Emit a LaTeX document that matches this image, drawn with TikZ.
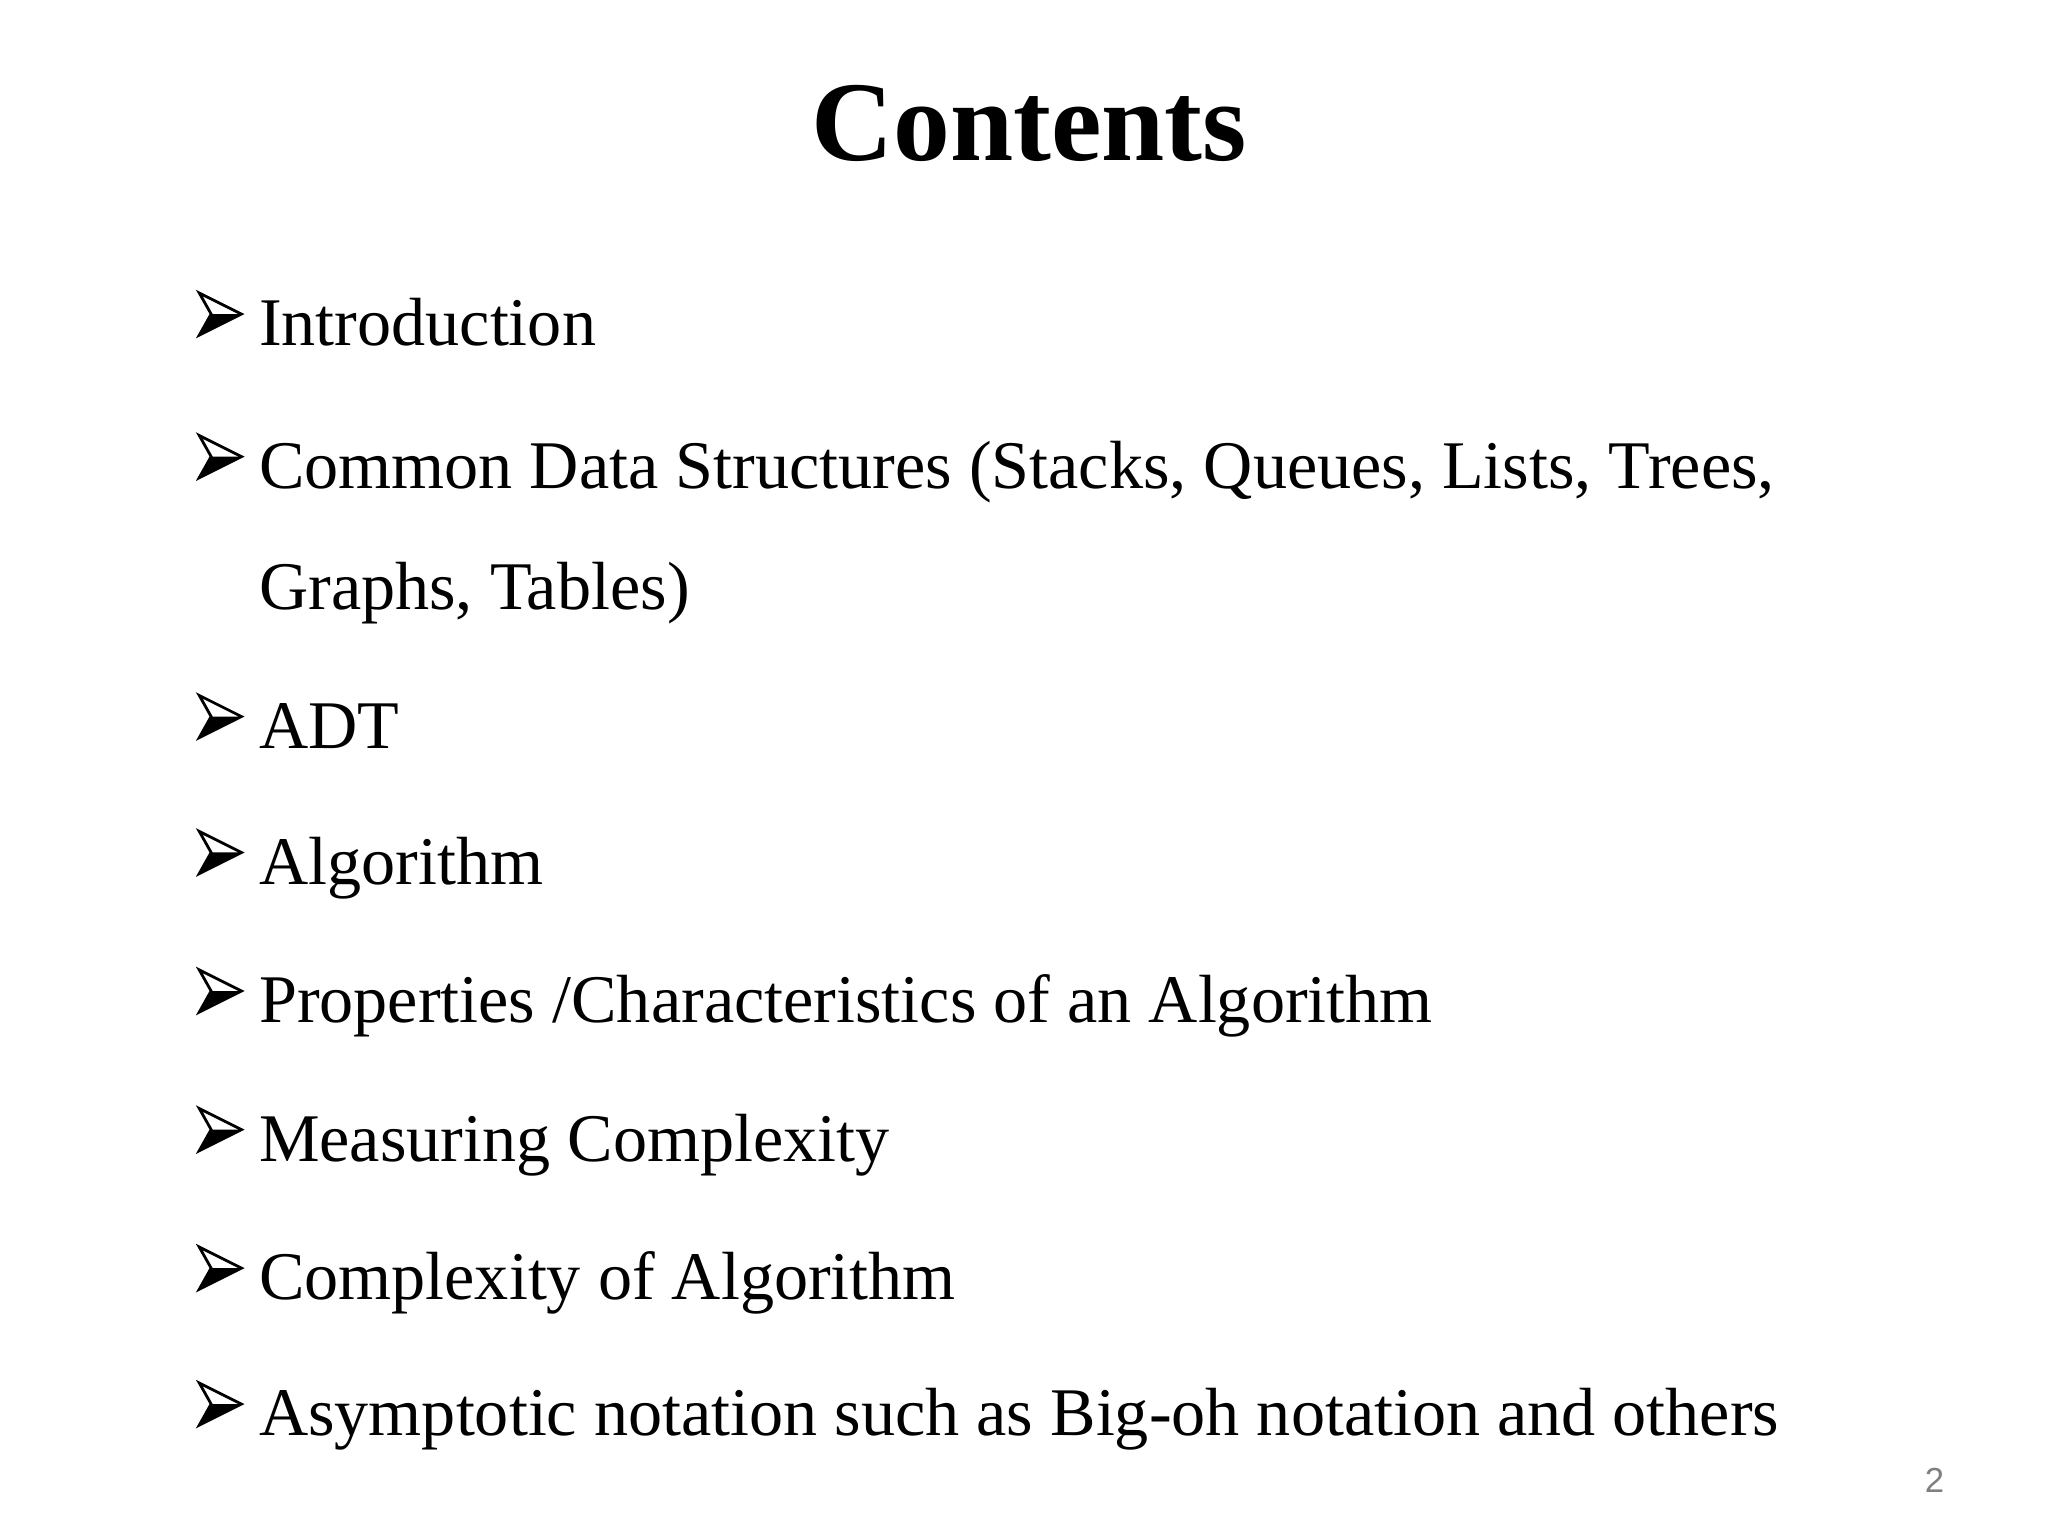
\documentclass[tikz,border=0pt]{standalone}
\usepackage{fontspec}
\setmainfont{Liberation Serif}
\newfontfamily\lsans{Liberation Sans}
\begin{document}
\begin{tikzpicture}[x=0.02cm,y=-0.02cm,
  item/.style={anchor=base west,inner sep=0pt,font=\fontsize{29.4}{35}\selectfont},
  arrowbul/.pic={
    \draw[line width=1.2pt,line join=miter,fill=white] (0,0) -- (32,16) -- (0,32) -- (9,16) -- cycle;
    \fill (9,16) -- (32,16) -- (0,32) -- cycle;
  }]
\useasboundingbox (0,0) rectangle (1552,1164);
\node[anchor=base,inner sep=0pt,font=\bfseries\fontsize{49}{56}\selectfont] (title) at (780,122) {Contents};
\foreach \y/\t/\n in {262/Introduction/a,370/{Common Data Structures (Stacks, Queues, Lists, Trees,}/b,567/ADT/c,670/Algorithm/d,775/{Properties /Characteristics of an Algorithm}/e,880/Measuring Complexity/f,985/Complexity of Algorithm/g,1088/{Asymptotic notation such as Big-oh notation and others}/h}{
  \pic (b\n) at (151,\y-40) {arrowbul};
  \node[item] (t\n) at (196,\y) {\t};
}
\node[item] (tb2) at (196,462) {Graphs, Tables)};
\node[anchor=base,inner sep=0pt,text=gray,font=\lsans\fontsize{15}{17}\selectfont] (pg) at (1466,1131) {2};
\end{tikzpicture}
\end{document}
